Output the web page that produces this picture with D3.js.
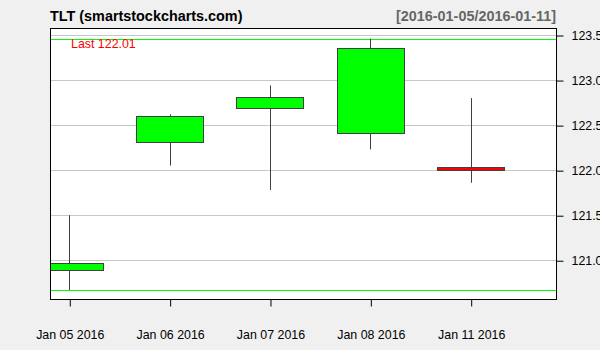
<!DOCTYPE html>
<html>
<head>
<meta charset="utf-8">
<script src="https://cdn.jsdelivr.net/npm/d3@7"></script>
<style>
body { margin: 0; background: #f0f0f0; }
svg { display: block; font-family: Arial, "Liberation Sans", sans-serif; }
</style>
</head>
<body>
<div id="chart"></div>
<script>
var width = 600,
height = 350,
left = 50, right = 556,
top_ = 28, bottom = 299;

var dates = ["Jan 05 2016", "Jan 06 2016", "Jan 07 2016", "Jan 08 2016", "Jan 11 2016"];
var open = [120.89, 122.31, 122.69, 122.42, 122.04];
var close = [120.97, 122.60, 122.81, 123.36, 122.01];
var high = [121.50, 122.62, 122.94, 123.46, 122.80];
var low = [120.67, 122.05, 121.78, 122.23, 121.86];
var yTicks = [121.0, 121.5, 122.0, 122.5, 123.0, 123.5];

var data = dates.map(function(d, i) {
	return { date: d, i: i, open: open[i], close: close[i], high: high[i], low: low[i] };
});

var svg = d3.select("#chart")
.append("svg")
.attr("width", width)
.attr("height", height);

svg.append("rect")
.attr("width", width)
.attr("height", height)
.attr("fill", "#f0f0f0");

var xScale = d3.scaleLinear()
.domain([-0.192, 4.85])
.range([left, right]);

var yScale = d3.scaleLinear()
.domain([120.57, 123.578])
.range([bottom, top_]);

var bw = 67;

// plot background
svg.append("rect")
.attr("x", left)
.attr("y", top_)
.attr("width", right - left)
.attr("height", bottom - top_)
.attr("fill", "white");

svg.append("clipPath")
.attr("id", "clip")
.append("rect")
.attr("x", left)
.attr("y", top_)
.attr("width", right - left)
.attr("height", bottom - top_);

var plot = svg.append("g").attr("clip-path", "url(#clip)");

// grid
plot.selectAll(".grid")
.data(yTicks)
.enter()
.append("line")
.attr("x1", left)
.attr("x2", right)
.attr("y1", function(d) { return Math.round(yScale(d)) + 0.5; })
.attr("y2", function(d) { return Math.round(yScale(d)) + 0.5; })
.attr("stroke", "#c8c8c8")
.attr("stroke-width", 1);

// high / low lines
plot.selectAll(".range")
.data([d3.max(high), d3.min(low)])
.enter()
.append("line")
.attr("x1", left)
.attr("x2", right)
.attr("y1", function(d) { return Math.round(yScale(d)) + 0.5; })
.attr("y2", function(d) { return Math.round(yScale(d)) + 0.5; })
.attr("stroke", "#00ff00")
.attr("stroke-width", 1);

// wicks
plot.selectAll(".wick")
.data(data)
.enter()
.append("line")
.attr("x1", function(d) { return Math.round(xScale(d.i)) + 0.5; })
.attr("x2", function(d) { return Math.round(xScale(d.i)) + 0.5; })
.attr("y1", function(d) { return yScale(d.high); })
.attr("y2", function(d) { return yScale(d.low); })
.attr("stroke", "#404040")
.attr("stroke-width", 1);

// bodies
plot.selectAll(".body")
.data(data)
.enter()
.append("rect")
.attr("x", function(d) { return Math.round(xScale(d.i) - bw / 2) + 0.5; })
.attr("y", function(d) { return Math.round(yScale(Math.max(d.open, d.close))) + 0.5; })
.attr("width", bw)
.attr("height", function(d) { return Math.max(2, Math.round(Math.abs(yScale(d.open) - yScale(d.close)))); })
.attr("fill", function(d) { return d.close >= d.open ? "#00ff00" : "#ff0000"; })
.attr("stroke", "#404040")
.attr("stroke-width", 1);

// last label
svg.append("text")
.attr("x", 71)
.attr("y", 48)
.attr("font-size", "12.4px")
.attr("fill", "#ff0000")
.text("Last " + close[close.length - 1].toFixed(2));

// border
svg.append("rect")
.attr("x", left + 0.5)
.attr("y", top_ + 0.5)
.attr("width", right - left)
.attr("height", bottom - top_)
.attr("fill", "none")
.attr("stroke", "black")
.attr("stroke-width", 1);

// y axis on the right
var yAxis = svg.append("g")
.attr("transform", "translate(" + (right + 0.5) + ",0.5)")
.call(d3.axisRight(yScale).tickValues(yTicks).tickFormat(d3.format(".1f")).tickSize(7).tickPadding(8));
yAxis.select(".domain").remove();
yAxis.selectAll("text").attr("font-size", "12.4px").attr("fill", "black").attr("font-family", "Arial, 'Liberation Sans', sans-serif");

// x axis
var xAxis = svg.append("g")
.attr("transform", "translate(0.5," + (bottom + 0.5) + ")")
.call(d3.axisBottom(xScale).tickValues(d3.range(dates.length)).tickFormat(function(i) { return dates[i]; }).tickSize(7).tickPadding(24));
xAxis.select(".domain").remove();
xAxis.selectAll("text").attr("font-size", "12.4px").attr("fill", "black").attr("font-family", "Arial, 'Liberation Sans', sans-serif");

// titles
svg.append("text")
.attr("x", left)
.attr("y", 21)
.attr("font-size", "14.4px")
.attr("font-weight", "bold")
.attr("fill", "black")
.text("TLT (smartstockcharts.com)");

svg.append("text")
.attr("x", right)
.attr("y", 21)
.attr("text-anchor", "end")
.attr("font-size", "14.4px")
.attr("font-weight", "bold")
.attr("fill", "#666666")
.text("[2016-01-05/2016-01-11]");
</script>
</body>
</html>
